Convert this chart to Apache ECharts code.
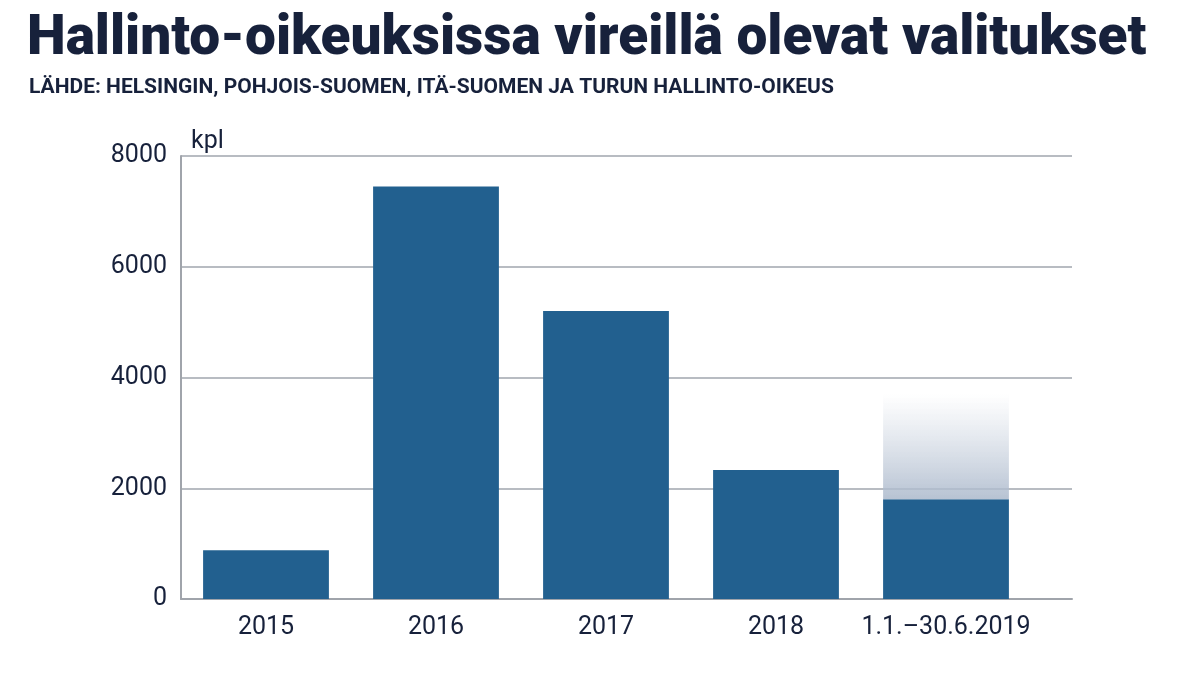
<!DOCTYPE html>
<html><head><meta charset="utf-8">
<script src="https://cdn.jsdelivr.net/npm/echarts@6/dist/echarts.min.js"></script>
<style>html,body{margin:0;padding:0;background:#fff}#c{width:1198px;height:674px}</style>
</head><body><div id="c"></div>
<script>
const categories = ['2015','2016','2017','2018','1.1.–30.6.2019'];
const values = [880, 7450, 5200, 2330, 1800];
const fadeExtra = [null, null, null, null, 1900];
const yTicks = [0, 2000, 4000, 6000, 8000];

const txt = '#17213b';
const chart = echarts.init(document.getElementById('c'));
chart.setOption({
  animation: false,
  title: [
    {text: 'Hallinto-oikeuksissa vireillä olevat valitukset', left: 22, top: 8,
     textStyle: {fontFamily: 'Roboto', fontWeight: 900, fontSize: 55, color: txt}},
    {text: 'LÄHDE: HELSINGIN, POHJOIS-SUOMEN, ITÄ-SUOMEN JA TURUN HALLINTO-OIKEUS', left: 24, top: 72,
     textStyle: {fontFamily: 'Roboto', fontWeight: 'bold', fontSize: 21, color: txt}},
    {text: 'kpl', left: 186, top: 124, textStyle: {fontFamily: 'Roboto', fontWeight: 'normal', fontSize: 25, color: txt}}
  ],
  grid: [
    {left: 181, right: 167, top: 156, bottom: 75},
    {left: 181, right: 126, top: 156, bottom: 75}
  ],
  xAxis: [
    {type: 'category', data: categories, gridIndex: 0,
     axisLine: {show: false}, axisTick: {show: false},
     axisLabel: {interval: 0, fontFamily: 'Roboto', fontSize: 25, color: txt, margin: 16}},
    {type: 'value', gridIndex: 1, min: 0, max: 1,
     axisLine: {show: true, onZero: false, lineStyle: {color: '#a0a4ab', width: 2}},
     axisTick: {show: false}, axisLabel: {show: false}, splitLine: {show: false}}
  ],
  yAxis: [
    {type: 'value', gridIndex: 0, min: 0, max: 8000, interval: 2000,
     axisLine: {show: false}, axisTick: {show: false}, splitLine: {show: false},
     axisLabel: {fontFamily: 'Roboto', fontSize: 25, color: txt, margin: 14,
       formatter: v => yTicks.includes(v) ? String(v) : ''}},
    {type: 'value', gridIndex: 1, min: 0, max: 8000, interval: 2000,
     axisLine: {show: true, lineStyle: {color: '#a0a4ab', width: 2}},
     axisTick: {show: false}, axisLabel: {show: false},
     splitLine: {lineStyle: {color: '#b8bcc2', width: 2}}}
  ],
  series: [
    {type: 'bar', stack: 's', data: values, barWidth: '74%', itemStyle: {color: '#22608f'}, z: 3},
    {type: 'bar', stack: 's', data: fadeExtra, barWidth: '74%', z: 3,
     itemStyle: {color: new echarts.graphic.LinearGradient(0,0,0,1,[
       {offset: 0, color: 'rgba(190,200,215,0)'}, {offset: 1, color: 'rgba(175,188,206,0.9)'}])}}
  ]
});
</script></body></html>
